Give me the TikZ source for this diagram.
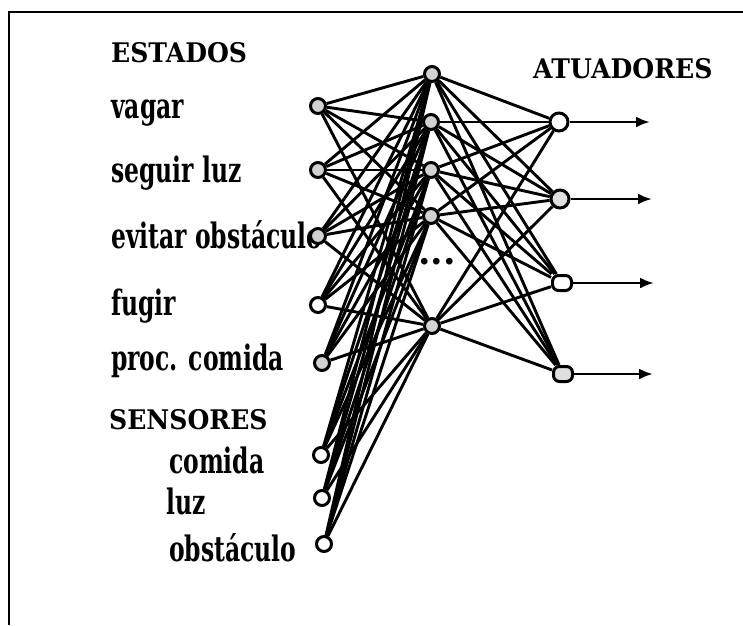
\documentclass[tikz,border=0pt]{standalone}
\usepackage{fontspec}
\setmainfont{DejaVu Serif}
\newfontfamily\lblfont[FakeStretch=0.67]{DejaVu Serif}
\newfontfamily\headfont[FakeStretch=0.93]{DejaVu Serif}
\usetikzlibrary{arrows.meta}
\pgfdeclarelayer{background}
\pgfsetlayers{background,main}
\begin{document}
\begin{tikzpicture}[x=1pt,y=-1pt,
  conn/.style={line width=2.9pt},
  lbl/.style={inner sep=0pt,anchor=base west,font=\lblfont\bfseries\fontsize{35}{38}\selectfont},
  head/.style={inner sep=0pt,anchor=base west,font=\headfont\bfseries\fontsize{27}{32}\selectfont},
  innode/.style={circle,draw,line width=3pt,fill=gray!35,minimum size=15pt,inner sep=0pt},
  sensnode/.style={circle,draw,line width=3pt,fill=white,minimum size=15pt,inner sep=0pt},
  hidnode/.style={circle,draw,line width=3pt,fill=gray!35,minimum size=15pt,inner sep=0pt},
  outcirc/.style={circle,draw,line width=3pt,fill=white,minimum size=18pt,inner sep=0pt},
  outbox/.style={rectangle,rounded corners=6pt,draw,line width=3pt,fill=white,minimum width=19pt,minimum height=15pt,inner sep=0pt},
  outarrow/.style={line width=2.9pt,-{Latex[length=14pt,width=11pt]}}]
\useasboundingbox (0,0) rectangle (743,625);
% frame
\coordinate (fbl) at (9,625);
\coordinate (ftl) at (9,12);
\coordinate (ftr) at (743,12);
\draw[line width=2pt] (fbl) -- (ftl) -- (ftr);

% headings
\node[head] (estados) at (111,62) {ESTADOS};
\node[head] (sensores) at (109,429) {SENSORES};
\node[head] (atuadores) at (533,78) {ATUADORES};

% labels
\node[lbl] (tvagar) at (111,118) {vagar};
\node[lbl] (tseguir) at (111,182) {seguir luz};
\node[lbl] (tevitar) at (111,248) {evitar obstáculo};
\node[lbl] (tfugir) at (111,315) {fugir};
\node[lbl] (tproc) at (111,370) {proc. comida};
\node[lbl] (tcomida) at (169,473) {comida};
\node[lbl] (tluz) at (166,514) {luz};
\node[lbl] (tobst) at (169,561) {obstáculo};

% input nodes
\node[innode] (i1) at (318,106) {};
\node[innode] (i2) at (318,170) {};
\node[innode] (i3) at (318,236) {};
\node[sensnode] (i4) at (318,305) {};
\node[innode] (i5) at (322,363) {};
\node[sensnode] (s1) at (321,455) {};
\node[sensnode] (s2) at (322,498) {};
\node[sensnode] (s3) at (324,544) {};

% hidden nodes
\node[hidnode] (h1) at (432,74) {};
\node[hidnode] (h2) at (431,122) {};
\node[hidnode] (h3) at (431,170) {};
\node[hidnode] (h4) at (431,216) {};
\node[hidnode] (h5) at (432,326) {};
\node[inner sep=0pt,font=\bfseries\fontsize{36}{38}\selectfont] (dots) at (437,262) {...};

% output nodes
\node[outcirc] (o1) at (559,122) {};
\node[outcirc,fill=gray!25] (o2) at (560,199) {};
\node[outbox] (o3) at (562,283) {};
\node[outbox,fill=gray!25] (o4) at (563,374) {};

% arrow ends
\coordinate (a1) at (650,122);
\coordinate (a2) at (652,199);
\coordinate (a3) at (654,283);
\coordinate (a4) at (653,374);
\draw[outarrow] (o1) -- (a1);
\draw[outarrow] (o2) -- (a2);
\draw[outarrow] (o3) -- (a3);
\draw[outarrow] (o4) -- (a4);

\begin{pgfonlayer}{background}
\foreach \a in {i1,i2,i3,i4,i5,s1,s2,s3}
  \foreach \b in {h1,h2,h3,h4,h5}
    \draw[conn] (\a) -- (\b);
\foreach \a in {h1,h2,h3,h4,h5}
  \foreach \b in {o1,o2,o3,o4}
    \draw[conn] (\a) -- (\b);
\end{pgfonlayer}
\end{tikzpicture}
\end{document}
